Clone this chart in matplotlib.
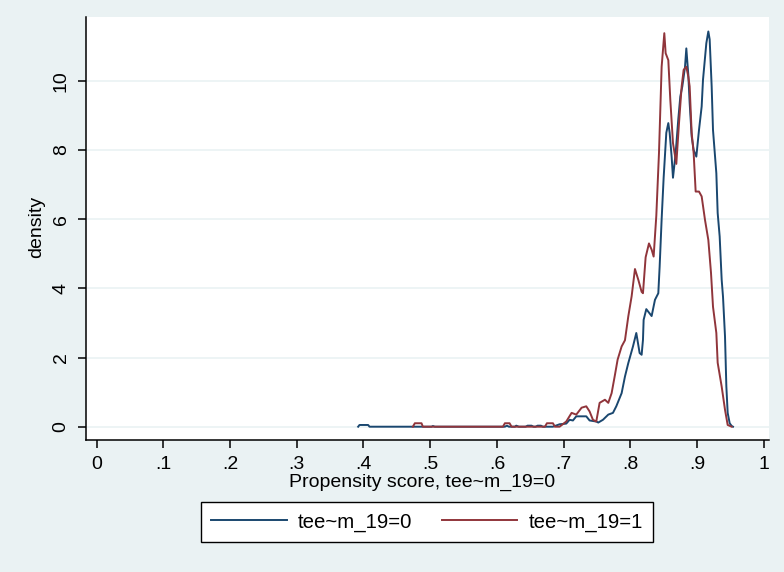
import numpy as np
import matplotlib
matplotlib.use("Agg")
import matplotlib.pyplot as plt

plt.rcParams['font.family'] = ['Liberation Sans', 'DejaVu Sans']

# propensity score grid / density
score_0 = [.392, .394, .407, .409, .502, .504, .507, .612, .615, .618, .627, .629, .633,
           .643, .646, .652, .655, .658, .661, .666, .669, .684, .694, .704, .709, .714,
           .719, .734, .739, .749, .752, .759, .767, .774, .779, .787, .792, .797, .804,
           .809, .814, .817, .819, .820, .824, .832, .837, .842, .844, .847, .850, .854,
           .857, .859, .862, .864, .868, .872, .875, .878, .882, .884, .887, .889, .892,
           .895, .899, .903, .907, .909, .914, .917, .919, .922, .924, .929, .931, .934,
           .937, .939, .942, .944, .946, .949, .952, .954]
dens_0 = [0, .05, .05, 0, 0, .02, 0, 0, .03, 0, 0, .03, 0,
          0, .03, .03, 0, 0, .03, .03, 0, 0, .07, .09, .2, .18,
          .3, .3, .18, .15, .12, .2, .35, .4, .59, .97, 1.45, 1.84, 2.32,
          2.71, 2.13, 2.08, 2.51, 3.09, 3.40, 3.20, 3.67, 3.86, 4.63, 6.00, 7.20, 8.50,
          8.78, 8.50, 7.80, 7.20, 7.91, 8.90, 9.55, 9.84, 10.40, 10.94, 10.17, 9.36, 8.40,
          8.00, 7.81, 8.58, 9.26, 10.03, 11.09, 11.43, 11.20, 9.84, 8.58, 7.33, 6.18, 5.50,
          4.25, 3.76, 2.61, 1.17, 0.40, 0.10, 0.02, 0]

score_1 = [.474, .477, .487, .489, .609, .612, .619, .622, .672, .675, .684, .687, .694,
           .704, .712, .719, .727, .734, .739, .744, .749, .754, .762, .767, .772, .777,
           .781, .787, .792, .797, .802, .807, .812, .817, .819, .823, .828, .832, .835,
           .839, .843, .847, .851, .853, .857, .860, .864, .869, .873, .877, .880, .884,
           .887, .889, .892, .895, .898, .903, .907, .912, .917, .921, .924, .929, .931,
           .937, .942, .946, .952]
dens_1 = [0, .1, .1, 0, 0, .1, .1, 0, 0, .1, .1, 0, 0,
          .15, .40, .35, .55, .59, .44, .20, .15, .69, .78, .69, .97, 1.50,
          1.94, 2.32, 2.50, 3.19, 3.77, 4.56, 4.25, 3.90, 3.86, 4.90, 5.30, 5.12, 4.92,
          6.10, 7.91, 10.41, 11.38, 10.80, 10.60, 9.45, 8.20, 7.60, 8.77, 9.84, 10.32, 10.41,
          10.12, 9.84, 8.50, 7.91, 6.80, 6.80, 6.66, 5.98, 5.40, 4.45, 3.47, 2.71, 1.85,
          1.16, .49, .05, 0]

xticks = [0, .1, .2, .3, .4, .5, .6, .7, .8, .9, 1]
xticklabels = ["0", ".1", ".2", ".3", ".4", ".5", ".6", ".7", ".8", ".9", "1"]
yticks = [0, 2, 4, 6, 8, 10]
labels = ["tee~m_19=0", "tee~m_19=1"]

bg = "#eaf2f3"
navy = "#1a476f"
maroon = "#90353b"

fig = plt.figure(figsize=(7.84, 5.72), dpi=100, facecolor=bg)
ax = fig.add_axes([0.1093, 0.2308, 0.8722, 0.739])
ax.set_facecolor("white")

ax.plot(score_0, dens_0, color=navy, lw=1.4, label=labels[0])
ax.plot(score_1, dens_1, color=maroon, lw=1.4, label=labels[1])

ax.set_xlim(-0.0165, 1.0087)
ax.set_ylim(-0.384, 11.84)
ax.set_xticks(xticks)
ax.set_xticklabels(xticklabels)
ax.set_yticks(yticks)
ax.yaxis.grid(True, color=bg, lw=1.2)
ax.set_axisbelow(True)

for s in ["top", "right"]:
    ax.spines[s].set_visible(False)
for s in ["left", "bottom"]:
    ax.spines[s].set_linewidth(1.1)
    ax.spines[s].set_color("black")

ax.tick_params(axis="both", length=5.5, width=1.1, labelsize=14, pad=6)
ax.tick_params(axis="y", labelrotation=90)
for t in ax.get_yticklabels():
    t.set_va("center")

ax.set_xlabel("Propensity score, tee~m_19=0", fontsize=14)
ax.xaxis.set_label_coords(0.492, -0.08)
ax.set_ylabel("density", fontsize=14)
ax.yaxis.set_label_coords(-0.06, 0.505)

leg = fig.legend(loc="center", bbox_to_anchor=(0.5446, 0.0874), ncol=2, fontsize=14.7,
                 handlelength=3.7, handletextpad=0.55, columnspacing=1.45,
                 borderpad=0.5, fancybox=False, edgecolor="black", framealpha=1)
leg.get_frame().set_linewidth(1.0)

fig.savefig("out.png", dpi=100, facecolor=bg)
